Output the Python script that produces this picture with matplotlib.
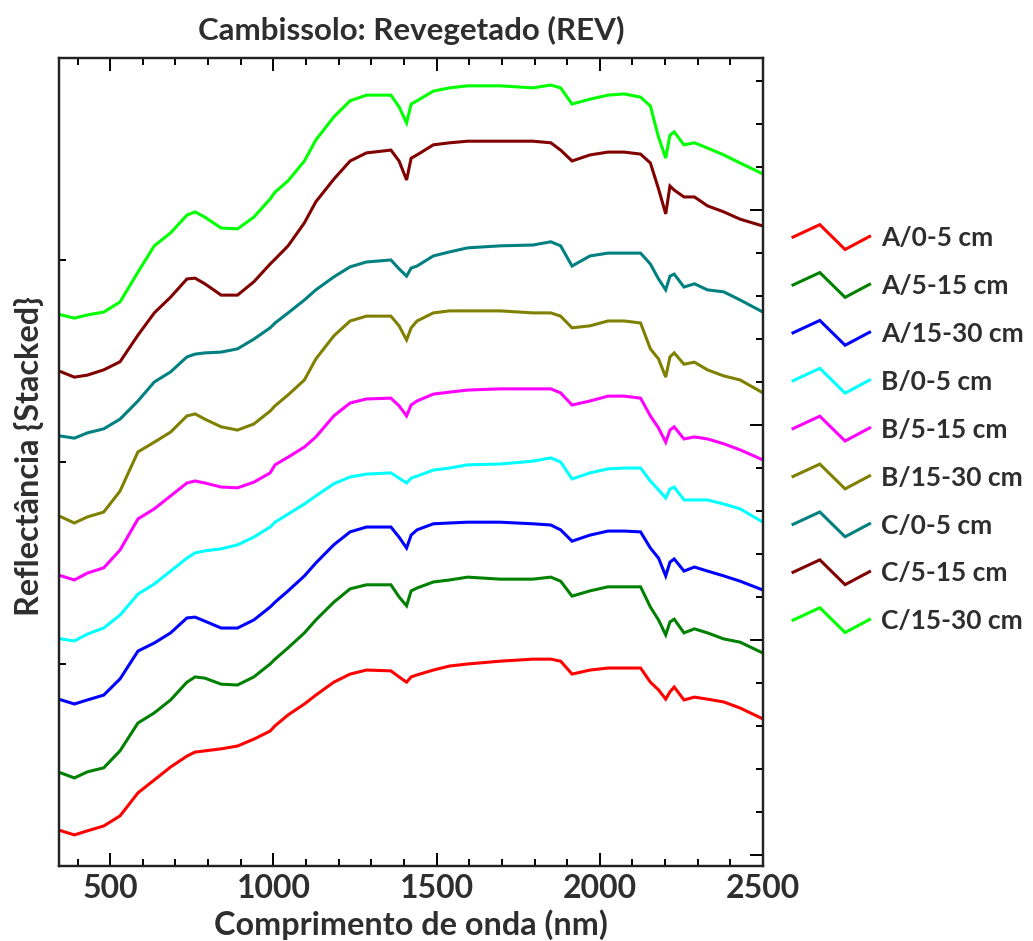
import matplotlib
matplotlib.use("Agg")
import matplotlib.pyplot as plt
from matplotlib.lines import Line2D
from matplotlib.legend_handler import HandlerBase
from matplotlib.ticker import MultipleLocator, NullFormatter

# ---------------- data (reflectance, %) ----------------
wavelength = [350, 390, 430, 480, 530, 585, 635, 685, 735, 760, 790, 840, 890, 940, 990,
              1005, 1045, 1095, 1130, 1185, 1235, 1285, 1360, 1385, 1408, 1422, 1440, 1490,
              1540, 1595, 1695, 1795, 1850, 1880, 1915, 1970, 2025, 2075, 2125, 2155, 2180,
              2202, 2215, 2228, 2258, 2290, 2330, 2380, 2430, 2500]

a_0_5 = [8.7, 7.7, 8.7, 9.9, 12.4, 18.1, 21.3, 24.5, 27.2, 28.2, 28.5, 29.0, 29.7, 31.4, 33.4,
         34.7, 37.4, 40.1, 42.3, 45.5, 47.5, 48.5, 48.3, 46.8, 45.5, 46.8, 47.3, 48.5,
         49.5, 50.0, 50.7, 51.2, 51.2, 50.7, 47.5, 48.5, 49.0, 49.0, 49.0, 45.5, 43.6,
         41.3, 43.1, 44.3, 41.1, 41.8, 41.3, 40.6, 39.1, 36.4]
a_5_15 = [8.0, 6.8, 8.3, 9.3, 13.5, 20.4, 22.9, 26.1, 30.5, 31.8, 31.5, 30.0, 29.8, 31.8, 35.0,
          36.2, 39.0, 42.7, 45.9, 50.3, 53.6, 54.6, 54.6, 51.6, 49.4, 53.1, 53.8, 55.3,
          55.8, 56.5, 56.0, 56.0, 56.5, 55.5, 51.8, 53.1, 54.1, 54.1, 54.1, 49.1, 45.9,
          42.2, 45.4, 46.1, 42.7, 43.7, 42.7, 41.2, 40.4, 37.7]
a_15_30 = [11.1, 10.1, 11.1, 12.3, 16.3, 23.2, 25.2, 27.7, 31.4, 31.6, 30.6, 28.9, 28.9, 30.9, 34.1,
           35.3, 38.1, 41.8, 45.0, 49.5, 52.7, 53.9, 53.9, 51.4, 48.7, 51.9, 53.2, 54.7,
           54.9, 55.1, 55.1, 54.7, 54.4, 53.2, 50.4, 51.9, 52.9, 52.9, 52.7, 48.7, 46.2,
           41.8, 45.2, 46.0, 43.0, 44.0, 43.0, 41.8, 40.5, 38.3]
b_0_5 = [11.2, 10.7, 12.4, 13.9, 17.1, 22.3, 24.8, 28.0, 31.2, 32.5, 33.0, 33.5, 34.5, 36.4, 38.9,
         40.1, 42.1, 44.6, 46.6, 49.6, 51.3, 52.0, 52.3, 51.0, 49.8, 51.0, 51.5, 53.0,
         53.5, 54.3, 54.5, 55.2, 56.0, 55.0, 50.8, 52.3, 53.3, 53.5, 53.5, 50.3, 48.1,
         46.1, 48.3, 48.8, 45.6, 45.6, 45.6, 44.6, 43.4, 40.1]
b_5_15 = [11.8, 10.8, 12.5, 13.8, 18.2, 25.9, 28.4, 31.6, 34.8, 35.3, 34.8, 33.8, 33.6, 35.0, 37.3,
          39.3, 41.2, 43.7, 46.2, 51.4, 54.6, 55.6, 55.8, 53.9, 51.4, 54.1, 55.1, 56.8,
          57.3, 57.8, 58.1, 58.1, 58.1, 57.1, 54.1, 55.1, 56.3, 56.3, 55.8, 51.4, 48.4,
          44.9, 47.9, 48.7, 45.7, 46.2, 45.7, 44.5, 43.0, 40.5]
b_15_30 = [11.4, 9.9, 11.4, 12.6, 17.8, 27.5, 29.9, 32.4, 36.4, 36.9, 35.6, 33.7, 32.9, 34.4, 37.6,
           38.9, 41.6, 45.3, 50.5, 56.2, 59.9, 61.1, 61.1, 58.7, 55.2, 58.2, 59.9, 61.9,
           62.4, 62.4, 62.4, 61.9, 61.9, 61.1, 58.2, 58.7, 59.9, 59.9, 59.4, 53.0, 50.5,
           46.0, 51.0, 52.0, 49.2, 49.7, 47.8, 46.3, 45.3, 42.1]
c_0_5 = [16.4, 15.9, 17.2, 18.2, 20.6, 25.1, 29.8, 32.3, 36.0, 36.7, 37.0, 37.2, 38.0, 40.4, 43.2,
         44.4, 46.9, 50.1, 52.6, 55.8, 58.3, 59.5, 60.0, 57.8, 56.0, 58.0, 58.5, 61.0,
         62.0, 63.0, 63.5, 63.7, 64.5, 63.5, 58.5, 61.0, 61.7, 61.7, 61.7, 59.0, 55.3,
         52.6, 56.0, 56.5, 53.3, 54.1, 52.6, 52.1, 50.1, 47.1]
c_5_15 = [17.3, 16.0, 16.5, 17.8, 19.8, 26.4, 31.9, 35.8, 40.3, 40.5, 39.1, 36.3, 36.3, 39.6, 44.0,
          45.2, 48.5, 54.2, 59.4, 65.0, 69.5, 71.5, 72.2, 69.5, 64.8, 70.2, 71.0, 73.5,
          74.0, 74.4, 74.4, 74.4, 74.0, 72.2, 69.5, 71.0, 71.7, 71.7, 71.2, 69.0, 62.6,
          56.4, 63.3, 62.3, 60.6, 60.6, 58.4, 56.9, 55.1, 53.4]
c_15_30 = [16.4, 15.6, 16.4, 17.1, 19.6, 27.0, 33.5, 36.7, 41.1, 41.9, 40.6, 37.9, 37.7, 40.6, 45.1,
           46.8, 49.6, 54.5, 59.7, 65.4, 69.4, 70.8, 70.8, 67.9, 63.9, 68.6, 69.4, 71.8,
           72.6, 73.1, 73.1, 72.6, 73.3, 72.6, 68.6, 69.8, 70.8, 71.1, 70.3, 68.1, 60.4,
           55.2, 60.9, 61.7, 58.5, 59.0, 57.7, 56.0, 54.0, 51.3]

series = [a_0_5, a_5_15, a_15_30, b_0_5, b_5_15, b_15_30, c_0_5, c_5_15, c_15_30]
labels = ["A/0-5 cm", "A/5-15 cm", "A/15-30 cm", "B/0-5 cm", "B/5-15 cm",
          "B/15-30 cm", "C/0-5 cm", "C/5-15 cm", "C/15-30 cm"]
offsets = [0, 15, 30, 45, 60, 75, 90, 105, 120]
colors = ["#FF0000", "#008000", "#0000FF", "#00FFFF", "#FF00FF",
          "#808000", "#008080", "#800000", "#00FF00"]

FONT = "Lato"
TXT = "#2e2e2e"
plt.rcParams["font.family"] = [FONT, "DejaVu Sans"]


class ZigzagHandler(HandlerBase):
    def create_artists(self, legend, orig_handle, xdescent, ydescent,
                       width, height, fontsize, trans):
        x0 = -xdescent
        y0 = -ydescent + height / 2.0
        amp = 0.47 * fontsize
        xs = [x0, x0 + 0.35 * width, x0 + 0.68 * width, x0 + width]
        ys = [y0, y0 + amp, y0 - amp, y0 + 0.05 * amp]
        ln = Line2D(xs, ys, color=orig_handle.get_color(),
                    lw=orig_handle.get_linewidth(), solid_joinstyle="miter")
        ln.set_transform(trans)
        return [ln]


fig = plt.figure(figsize=(10.33, 9.41), dpi=100)
ax = fig.add_axes([0.0571, 0.0797, 0.6815, 0.8587])

handles = []
for vals, off, col, lab in zip(series, offsets, colors, labels):
    h, = ax.plot(wavelength, [v + off for v in vals], color=col, lw=2.2,
                 label=lab, solid_joinstyle="miter")
    handles.append(h)

ax.set_xlim(343, 2500)
ax.set_ylim(0, 200)
ax.xaxis.set_major_locator(MultipleLocator(500))
ax.xaxis.set_minor_locator(MultipleLocator(100))
ax.yaxis.set_major_locator(MultipleLocator(50))
ax.yaxis.set_major_formatter(NullFormatter())
ax.tick_params(axis="x", which="major", direction="in", length=9.5, width=1.4,
               top=True, bottom=True, labelsize=23, labelcolor=TXT, pad=6)
ax.tick_params(axis="x", which="minor", direction="in", length=5, width=1.4,
               top=True, bottom=True)
ax.tick_params(axis="y", which="major", direction="in", length=5, width=1.4,
               left=True, right=False)
for lbl in ax.get_xticklabels():
    lbl.set_fontweight("bold")

ax2 = ax.twinx()
ax2.set_ylim(-0.051, 3.707)
ax2.yaxis.set_major_locator(MultipleLocator(1))
ax2.yaxis.set_minor_locator(MultipleLocator(0.2))
ax2.yaxis.set_major_formatter(NullFormatter())
ax2.tick_params(axis="y", which="major", direction="in", length=9.5, width=1.4)
ax2.tick_params(axis="y", which="minor", direction="in", length=5, width=1.4)

for a in (ax, ax2):
    for sp in a.spines.values():
        sp.set_linewidth(1.6)
        sp.set_color("#222222")

ax.set_title("Cambissolo: Revegetado (REV)", fontsize=22.5, color=TXT,
             fontweight="bold", pad=13)
ax.set_xlabel("Comprimento de onda (nm)", fontsize=23.3, color=TXT,
              fontweight="bold", labelpad=4)
ax.set_ylabel("Reflectância {Stacked}", fontsize=23.3, color=TXT,
              fontweight="bold")
ax.yaxis.set_label_coords(-0.021, 0.507)

leg = fig.legend(handles, labels, loc="upper left",
                 bbox_to_anchor=(0.7677, 0.7595), frameon=False,
                 handler_map={Line2D: ZigzagHandler()},
                 fontsize=19, handlelength=2.9, handletextpad=0.45,
                 labelspacing=0.905, borderpad=0, borderaxespad=0)
for t in leg.get_texts():
    t.set_color(TXT)
    t.set_fontweight("bold")

fig.savefig("out.png", dpi=100)
